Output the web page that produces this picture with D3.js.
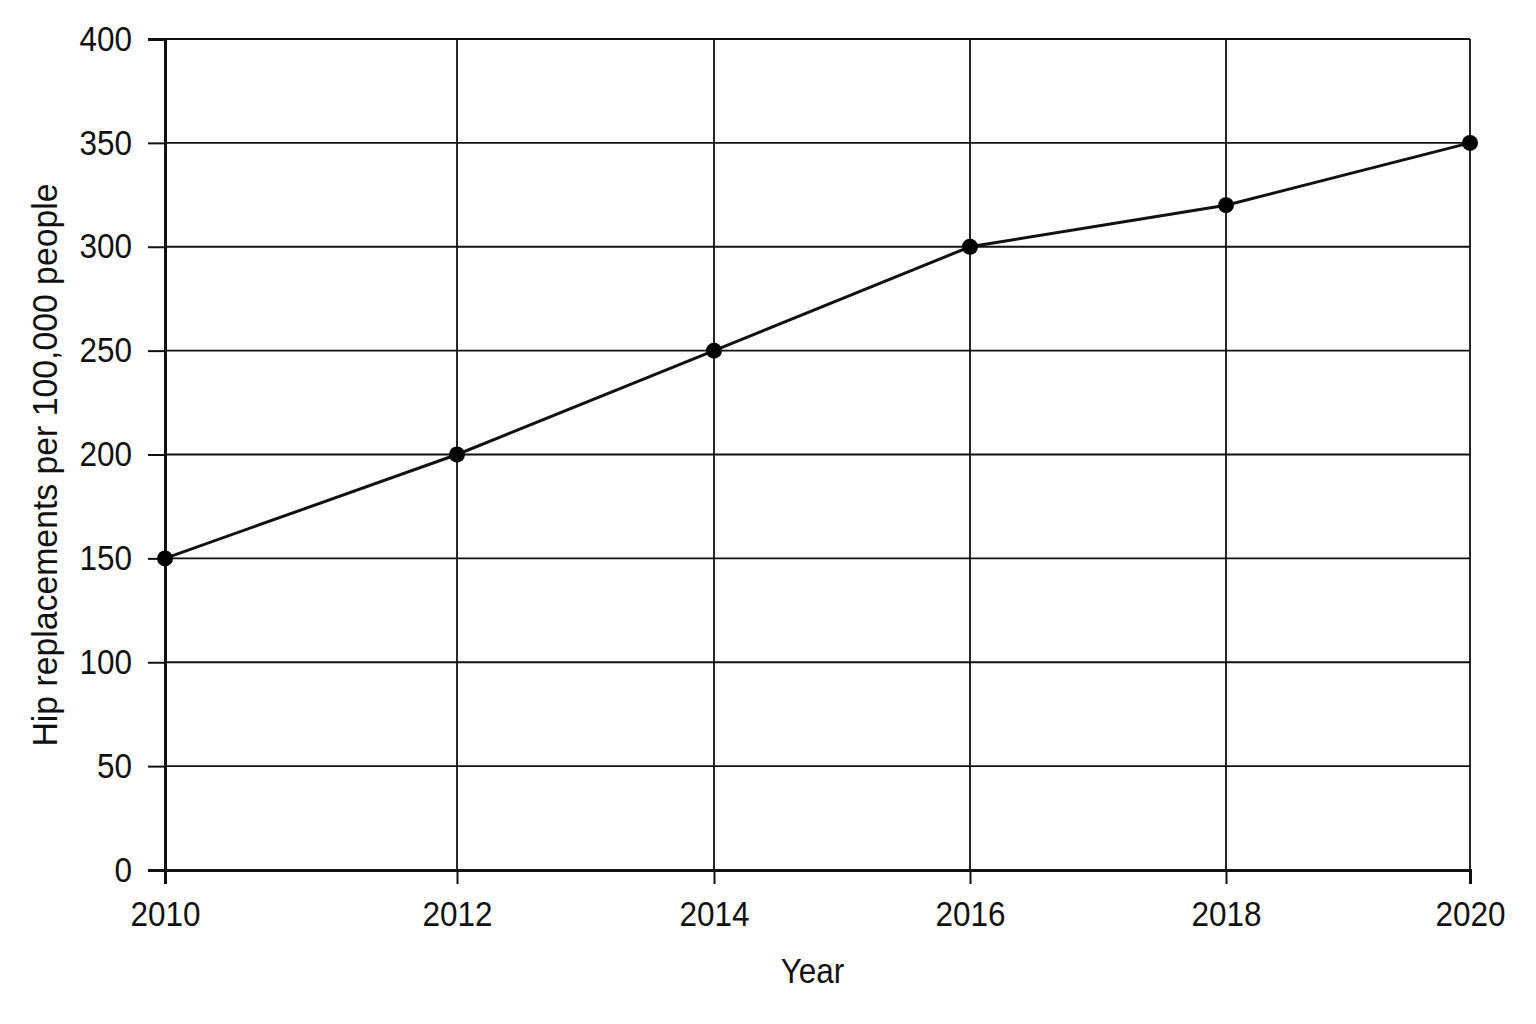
<!DOCTYPE html>
<html>
<head>
<meta charset="utf-8">
<script src="https://cdn.jsdelivr.net/npm/d3@7"></script>
<style>
  html, body { margin: 0; padding: 0; background: #fff; }
  svg { display: block; }
  text { font-family: "Liberation Sans", Arial, sans-serif; fill: #111; }
</style>
</head>
<body>
<svg id="chart" width="1536" height="1024"></svg>
<script>
// ---- data ----
const years = [2010, 2012, 2014, 2016, 2018, 2020];
const hipReplacements = [150, 200, 250, 300, 320, 350];
const yTicks = [0, 50, 100, 150, 200, 250, 300, 350, 400];
const xTitle = "Year";
const yTitle = "Hip replacements per 100,000 people";

// ---- layout ----
const W = 1536, H = 1024;
const plotLeft = 165, plotRight = 1470, plotTop = 39, plotBottom = 870;
// the reference axis spaces its year ticks slightly unevenly
const xStops = [165, 457, 714, 970, 1226, 1470];
const FS = 35, SX = 0.9; // condensed-looking labels

const svg = d3.select("#chart");
svg.append("rect").attr("width", W).attr("height", H).attr("fill", "#fff");

const x = d3.scaleLinear().domain(years).range(xStops);
const y = d3.scaleLinear().domain([0, 400]).range([plotBottom, plotTop]);

// gridlines
const grid = svg.append("g").attr("stroke", "#111").attr("stroke-width", 1.8);
grid.selectAll("line.h").data(yTicks.filter(d => d > 0)).join("line")
  .attr("class", "h")
  .attr("x1", plotLeft).attr("x2", plotRight)
  .attr("y1", d => y(d)).attr("y2", d => y(d));
grid.selectAll("line.v").data(years.slice(1)).join("line")
  .attr("class", "v")
  .attr("x1", d => x(d)).attr("x2", d => x(d))
  .attr("y1", plotTop).attr("y2", plotBottom);

// y axis
const yAxis = svg.append("g")
  .attr("transform", `translate(${plotLeft},0)`)
  .call(d3.axisLeft(y).tickValues(yTicks).tickSize(17).tickPadding(15));
yAxis.select(".domain").attr("stroke", "#111").attr("stroke-width", 3);
yAxis.selectAll(".tick line").attr("stroke", "#111").attr("stroke-width", 2);
yAxis.selectAll(".tick text").attr("font-size", FS).attr("fill", "#111")
  .attr("font-family", "Liberation Sans, Arial, sans-serif")
  .attr("x", -33 / SX)
  .attr("transform", `scale(${SX},1)`);

// x axis
const xAxis = svg.append("g")
  .attr("transform", `translate(0,${plotBottom})`)
  .call(d3.axisBottom(x).tickValues(years).tickFormat(d3.format("d")).tickSize(14).tickPadding(17));
xAxis.select(".domain").attr("stroke", "#111").attr("stroke-width", 3);
xAxis.selectAll(".tick line").attr("stroke", "#111").attr("stroke-width", 2);
xAxis.selectAll(".tick text").attr("font-size", FS).attr("fill", "#111")
  .attr("font-family", "Liberation Sans, Arial, sans-serif")
  .attr("transform", `scale(${SX},1)`);

// axis titles
svg.append("text")
  .attr("transform", `translate(${(plotLeft + plotRight) / 2 - 5},983) scale(${SX},1)`)
  .attr("text-anchor", "middle").attr("font-size", FS)
  .text(xTitle);
svg.append("text")
  .attr("transform", `translate(57,465) rotate(-90) scale(0.965,1)`)
  .attr("text-anchor", "middle").attr("font-size", FS)
  .text(yTitle);

// line + points
const pts = years.map((yr, i) => ({ year: yr, value: hipReplacements[i] }));
svg.append("path").datum(pts)
  .attr("fill", "none").attr("stroke", "#111").attr("stroke-width", 3)
  .attr("d", d3.line().x(d => x(d.year)).y(d => y(d.value)));
svg.selectAll("circle.pt").data(pts).join("circle")
  .attr("class", "pt")
  .attr("cx", d => x(d.year)).attr("cy", d => y(d.value))
  .attr("r", 8).attr("fill", "#000");
</script>
</body>
</html>
